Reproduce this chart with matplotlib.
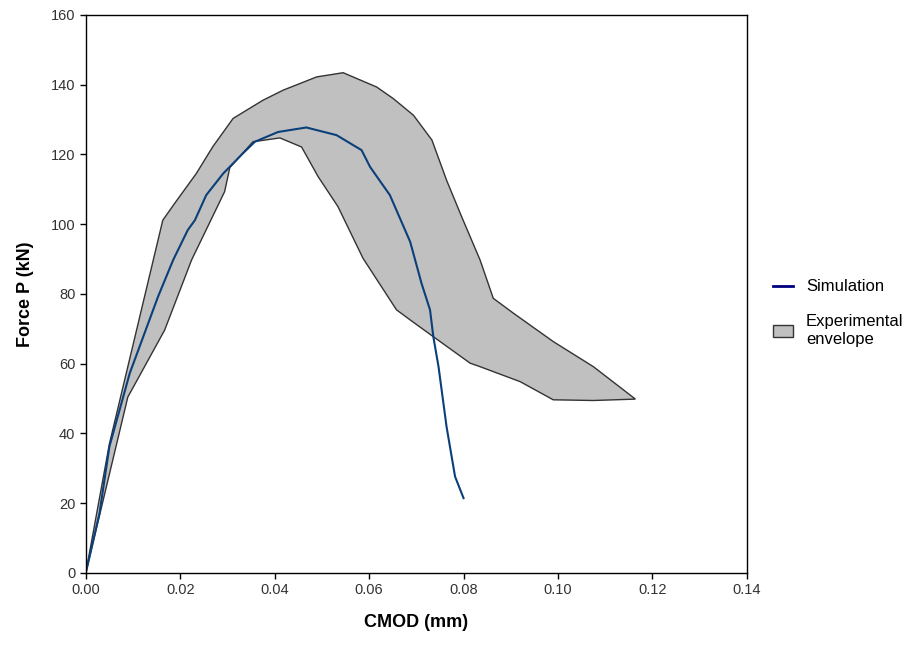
import numpy as np
import matplotlib.pyplot as plt
from matplotlib.lines import Line2D
from matplotlib.patches import Patch

plt.rcParams['font.family'] = ['Liberation Sans', 'DejaVu Sans']

# Simulation curve (CMOD mm, force kN)
sim_x = [0.0, 0.0029, 0.0050, 0.0093, 0.0153, 0.0185, 0.0216, 0.0231, 0.0255, 0.0291,
         0.0333, 0.0358, 0.0407, 0.0467, 0.0531, 0.0584, 0.0602, 0.0644, 0.0687,
         0.0711, 0.0729, 0.0736, 0.0747, 0.0764, 0.0782, 0.0800]
sim_y = [0.0, 17.1, 36.2, 57.2, 79.2, 89.7, 98.3, 101.1, 108.3, 114.5,
         120.3, 123.6, 126.4, 127.7, 125.5, 121.2, 116.4, 108.3, 94.9,
         83.0, 75.4, 67.7, 59.1, 41.9, 27.6, 21.4]

# Experimental envelope - upper boundary
up_x = [0.0, 0.0050, 0.0163, 0.0188, 0.0234, 0.0269, 0.0312, 0.0375, 0.0418, 0.0489,
        0.0545, 0.0616, 0.0651, 0.0694, 0.0733, 0.0764, 0.0796, 0.0835, 0.0863,
        0.0906, 0.0990, 0.1075, 0.1164]
up_y = [0.0, 37.0, 101.1, 105.9, 114.5, 122.2, 130.3, 135.5, 138.4, 142.2,
        143.4, 139.3, 136.0, 131.2, 124.1, 112.6, 102.1, 89.7, 78.7,
        74.4, 66.3, 59.1, 49.8]

# Experimental envelope - lower boundary
lo_x = [0.0, 0.0089, 0.0167, 0.0224, 0.0294, 0.0305, 0.0354, 0.0411, 0.0457, 0.0492,
        0.0534, 0.0587, 0.0658, 0.0687, 0.0736, 0.0814, 0.0835, 0.0920, 0.0990,
        0.1075, 0.1164]
lo_y = [0.0, 50.4, 69.6, 89.7, 109.3, 116.2, 123.6, 124.7, 122.1, 113.6,
        105.0, 90.2, 75.4, 72.5, 67.7, 60.1, 59.1, 54.8, 49.6,
        49.4, 49.8]

fig = plt.figure(figsize=(9.13, 6.45), dpi=100)
ax = fig.add_axes([0.094, 0.112, 0.724, 0.865])

# polygon of envelope: upper forward, lower backward
env_x = up_x + lo_x[::-1]
env_y = up_y + lo_y[::-1]
ax.fill(env_x, env_y, facecolor='#c0c0c0', edgecolor='#333333', linewidth=1.0, zorder=1)
ax.plot(sim_x, sim_y, color='#0b3f7a', linewidth=1.5, zorder=2)

ax.set_xlim(0, 0.14)
ax.set_ylim(0, 160)
ax.set_xticks(np.arange(0, 0.141, 0.02))
ax.set_yticks(np.arange(0, 161, 20))
ax.set_xticklabels([f'{v:.2f}' for v in np.arange(0, 0.141, 0.02)])
ax.tick_params(direction='out', length=4, width=1, labelsize=10.5, labelcolor='#333333')
for s in ax.spines.values():
    s.set_linewidth(1.0)

ax.set_xlabel('CMOD (mm)', fontsize=13, fontweight='bold', labelpad=12)
ax.set_ylabel('Force P (kN)', fontsize=13, fontweight='bold', labelpad=12)

handles = [Line2D([], [], color='#000080', linewidth=2),
           Patch(facecolor='#c0c0c0', edgecolor='#333333')]
fig.legend(handles, ['Simulation', 'Experimental\nenvelope'], loc='upper left',
           bbox_to_anchor=(0.83, 0.59), frameon=False, fontsize=12,
           handlelength=1.2, labelspacing=1.2, handletextpad=0.8)

fig.savefig('out.png', dpi=100)
